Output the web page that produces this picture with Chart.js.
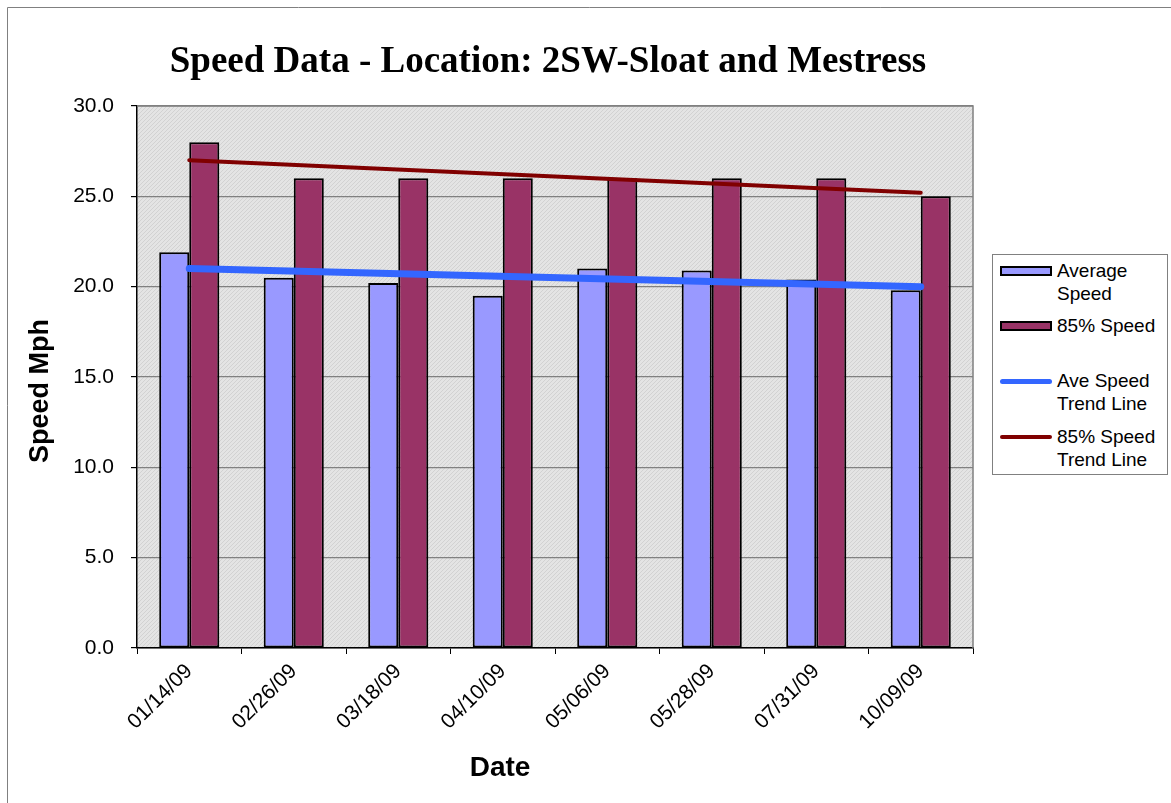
<!DOCTYPE html>
<html>
<head>
<meta charset="utf-8">
<script src="https://cdn.jsdelivr.net/npm/chart.js@4/dist/chart.umd.min.js"></script>
<style>
  html, body { margin: 0; padding: 0; background: #fff; }
  #wrap { position: relative; width: 1171px; height: 803px; }
  #speedChart { position: absolute; left: 0; top: 0; }
  #legend {
    position: absolute; left: 992px; top: 254px; width: 176px; height: 221px;
    border: 1px solid #808080; box-sizing: border-box; background: #fff;
    font-family: "Liberation Sans", Arial, sans-serif; font-size: 19px; color: #000;
  }
  .item { position: absolute; left: 0; display: flex; align-items: flex-start; }
  .swatch { margin-left: 7px; margin-right: 5px; width: 52px; flex: none; box-sizing: border-box; }
  .item span { line-height: 23px; }
</style>
</head>
<body>
<div id="wrap">
  <canvas id="speedChart" width="1171" height="803"></canvas>
  <div id="legend"></div>
</div>
<script>
// -------------------- Data --------------------
const dates = ['01/14/09', '02/26/09', '03/18/09', '04/10/09', '05/06/09', '05/28/09', '07/31/09', '10/09/09'];
const avgSpeed = [21.9, 20.5, 20.2, 19.5, 21.0, 20.9, 20.4, 19.8];
const speed85 = [28, 26, 26, 26, 26, 26, 26, 25];
// trend lines: only the end points are known, the rest is spanned
const aveTrend = [21.0, null, null, null, null, null, null, 20.0];
const trend85 = [27.0, null, null, null, null, null, null, 25.2];
const yTicks = [0, 5, 10, 15, 20, 25, 30];

const chartTitle = 'Speed Data - Location: 2SW-Sloat and Mestress';

// -------------------- Helpers --------------------
function makePattern() {
  const c = document.createElement('canvas');
  c.width = 4; c.height = 4;
  const g = c.getContext('2d');
  g.fillStyle = '#e4e4e4';
  g.fillRect(0, 0, 4, 4);
  g.fillStyle = '#d2d2d2';
  g.fillRect(0, 0, 1, 1);
  g.fillRect(2, 2, 1, 1);
  g.fillRect(1, 3, 1, 1);
  g.fillRect(3, 1, 1, 1);
  return g.createPattern(c, 'repeat');
}

const plotDecor = {
  id: 'plotDecor',
  beforeDraw(chart) {
    const { ctx, chartArea: a } = chart;
    ctx.save();
    // outer chart frame (left + top visible)
    ctx.strokeStyle = '#808080';
    ctx.lineWidth = 1;
    ctx.beginPath();
    ctx.moveTo(7.5, chart.height);
    ctx.lineTo(7.5, 7.5);
    ctx.lineTo(chart.width, 7.5);
    ctx.stroke();
    // plot background
    ctx.fillStyle = makePattern();
    ctx.fillRect(a.left, a.top, a.right - a.left, a.bottom - a.top);
    ctx.restore();
  },
  beforeDatasetsDraw(chart) {
    const { ctx, chartArea: a } = chart;
    ctx.save();
    ctx.strokeStyle = '#808080';
    ctx.lineWidth = 1.5;
    ctx.beginPath();
    ctx.moveTo(a.left, a.top);
    ctx.lineTo(a.right, a.top);
    ctx.lineTo(a.right, a.bottom);
    ctx.stroke();
    ctx.restore();
  },
  afterDraw(chart) {
    const { ctx, chartArea: a } = chart;
    ctx.save();
    ctx.fillStyle = '#000';
    ctx.textAlign = 'center';
    ctx.textBaseline = 'middle';
    ctx.font = 'bold 37px "Liberation Serif", "DejaVu Serif", serif';
    ctx.fillText(chartTitle, (a.left + a.right) / 2 - 7, 62);
    ctx.font = 'bold 28px "Liberation Sans", Arial, sans-serif';
    ctx.fillText('Date', a.left + 363, 768);
    ctx.translate(41, a.top + 285);
    ctx.rotate(-Math.PI / 2);
    ctx.font = 'bold 27px "Liberation Sans", Arial, sans-serif';
    ctx.fillText('Speed Mph', 0, 0);
    ctx.restore();
  }
};

// -------------------- Chart --------------------
const ctx = document.getElementById('speedChart');
const chart = new Chart(ctx, {
  type: 'bar',
  data: {
    labels: dates,
    datasets: [
      {
        label: 'Average Speed',
        data: avgSpeed,
        backgroundColor: '#9999ff',
        borderColor: '#000',
        borderWidth: 2,
        borderSkipped: false,
        categoryPercentage: 0.575,
        barPercentage: 1.0,
        order: 2
      },
      {
        label: '85% Speed',
        data: speed85,
        backgroundColor: '#993366',
        borderColor: '#000',
        borderWidth: 2,
        borderSkipped: false,
        categoryPercentage: 0.575,
        barPercentage: 1.0,
        order: 2
      },
      {
        type: 'line',
        label: 'Ave Speed Trend Line',
        data: aveTrend,
        borderColor: '#3366ff',
        borderWidth: 7,
        borderCapStyle: 'round',
        pointRadius: 0,
        spanGaps: true,
        fill: false,
        order: 0
      },
      {
        type: 'line',
        label: '85% Speed Trend Line',
        data: trend85,
        borderColor: '#800000',
        borderWidth: 4,
        borderCapStyle: 'round',
        pointRadius: 0,
        spanGaps: true,
        fill: false,
        order: 1
      }
    ]
  },
  options: {
    responsive: false,
    animation: false,
    devicePixelRatio: 1,
    layout: { padding: { left: 8, right: 198, top: 106, bottom: 0 } },
    plugins: {
      legend: { display: false },
      title: { display: false },
      tooltip: { enabled: false }
    },
    scales: {
      x: {
        offset: true,
        grid: {
          offset: true,
          drawOnChartArea: false,
          drawTicks: true,
          tickLength: 6,
          color: '#000'
        },
        border: { display: true, color: '#000', width: 1.5 },
        ticks: {
          color: '#000',
          minRotation: 45,
          maxRotation: 45,
          autoSkip: false,
          padding: 5,
          font: { family: '"Liberation Sans", Arial, sans-serif', size: 21 }
        },
        afterFit(scale) { scale.height = 155; }
      },
      y: {
        min: 0,
        max: 30,
        afterBuildTicks(scale) { scale.ticks = yTicks.map(v => ({ value: v })); },
        grid: {
          color: '#808080',
          lineWidth: 1.2,
          tickLength: 6,
          tickColor: '#000'
        },
        border: { display: true, color: '#000', width: 1.5 },
        ticks: {
          color: '#000',
          padding: 17,
          callback: v => Number(v).toFixed(1),
          font: { family: '"Liberation Sans", Arial, sans-serif', size: 21 }
        },
        afterFit(scale) { scale.width = 129; }
      }
    }
  },
  plugins: [plotDecor]
});

// -------------------- Legend --------------------
const legendRows = [
  { top: 4, lines: ['Average', 'Speed'], kind: 'box', ds: 0 },
  { top: 59, lines: ['85% Speed'], kind: 'box', ds: 1 },
  { top: 114, lines: ['Ave Speed', 'Trend Line'], kind: 'line', ds: 2 },
  { top: 170, lines: ['85% Speed', 'Trend Line'], kind: 'line', ds: 3 }
];
const legendEl = document.getElementById('legend');
legendRows.forEach(r => {
  const ds = chart.data.datasets[r.ds];
  const item = document.createElement('div');
  item.className = 'item';
  item.style.top = r.top + 'px';
  const sw = document.createElement('div');
  sw.className = 'swatch';
  if (r.kind === 'box') {
    sw.style.height = '10px';
    sw.style.marginTop = '7px';
    sw.style.background = ds.backgroundColor;
    sw.style.border = '2px solid #000';
  } else {
    sw.style.height = ds.borderWidth === 7 ? '5px' : '4px';
    sw.style.marginTop = '10px';
    sw.style.background = ds.borderColor;
    sw.style.borderRadius = '3px';
  }
  const txt = document.createElement('span');
  txt.innerHTML = r.lines.join('<br>');
  item.appendChild(sw);
  item.appendChild(txt);
  legendEl.appendChild(item);
});
</script>
</body>
</html>
